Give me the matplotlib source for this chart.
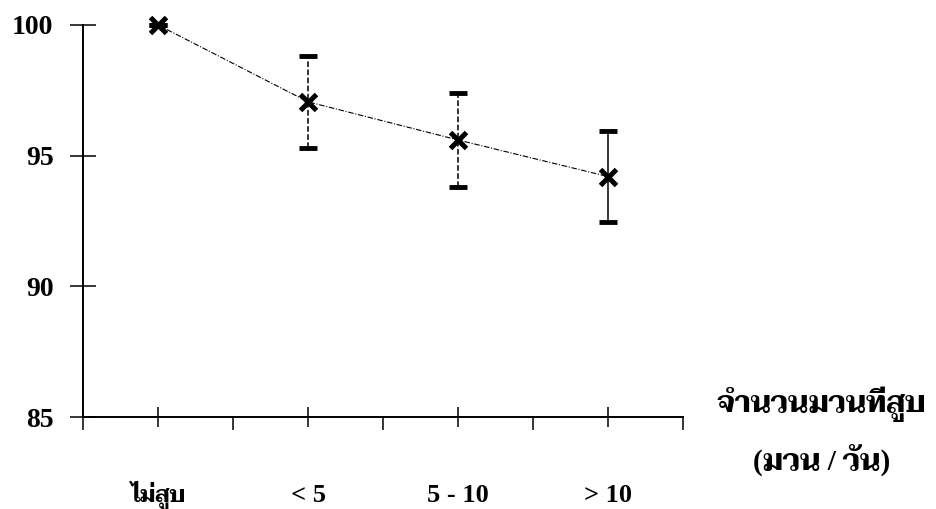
import matplotlib
matplotlib.use('Agg')
import matplotlib.pyplot as plt
from matplotlib.ticker import FixedLocator

# data
groups = ['ไม่สูบ', '< 5', '5 - 10', '> 10']
pos = [1, 2, 3, 4]
mean = [100.0, 97.06, 95.6, 94.2]
err = [0.0, 1.77, 1.79, 1.74]
bar_styles = ['-', '--', '--', '-']

yticks = [85, 90, 95, 100]
xlabel1 = 'จำนวนมวนที่สูบ'
xlabel2 = '(มวน / วัน)'

fam = ['Liberation Serif', 'Taviraj']

fig = plt.figure(figsize=(9.37, 5.09), dpi=100)
ax = fig.add_axes([0.0886, 0.1807, 0.6404, 0.7702])

# connecting line
ax.plot(pos, mean, color='black', lw=0.8, ls=(0, (5, 1.5, 1, 1.5)), zorder=2)

eb = ax.errorbar(pos, mean, yerr=err, fmt='none', ecolor='black', elinewidth=1.1,
                 capsize=6.5, capthick=3.5, zorder=3)
eb[2][0].set_linestyle(bar_styles)
for c in eb[1]:
    c.set_clip_on(False)

ax.plot(pos, mean, ls='none', marker='x', ms=12, mew=3.6, color='black',
        clip_on=False, zorder=4)

ax.set_xlim(0.5, 4.5)
ax.set_ylim(85, 100)

for s in ['top', 'right']:
    ax.spines[s].set_visible(False)
for s in ['left', 'bottom']:
    ax.spines[s].set_linewidth(1.4)

ax.set_yticks(yticks)
ax.set_yticklabels([str(v) for v in yticks], family=fam, fontweight='bold', fontsize=20)
ax.tick_params(axis='y', direction='inout', length=18.5, width=1.1, pad=12)

ax.set_xticks(pos)
ax.set_xticklabels(groups, family=fam, fontweight='bold', fontsize=19, va='baseline')
ax.get_xticklabels()[0].set_fontsize(16)
ax.xaxis.set_minor_locator(FixedLocator([0.5, 1.5, 2.5, 3.5, 4.5]))
ax.tick_params(axis='x', which='major', direction='inout', length=14.4, width=1.1, pad=54)
ax.tick_params(axis='x', which='minor', direction='out', length=9, width=1.1)

fig.text(0.877, 0.205, xlabel1, ha='center', va='center', family=fam,
         fontweight='bold', fontsize=21)
fig.text(0.877, 0.094, xlabel2, ha='center', va='center', family=fam,
         fontweight='bold', fontsize=21)

fig.savefig('out.png')
